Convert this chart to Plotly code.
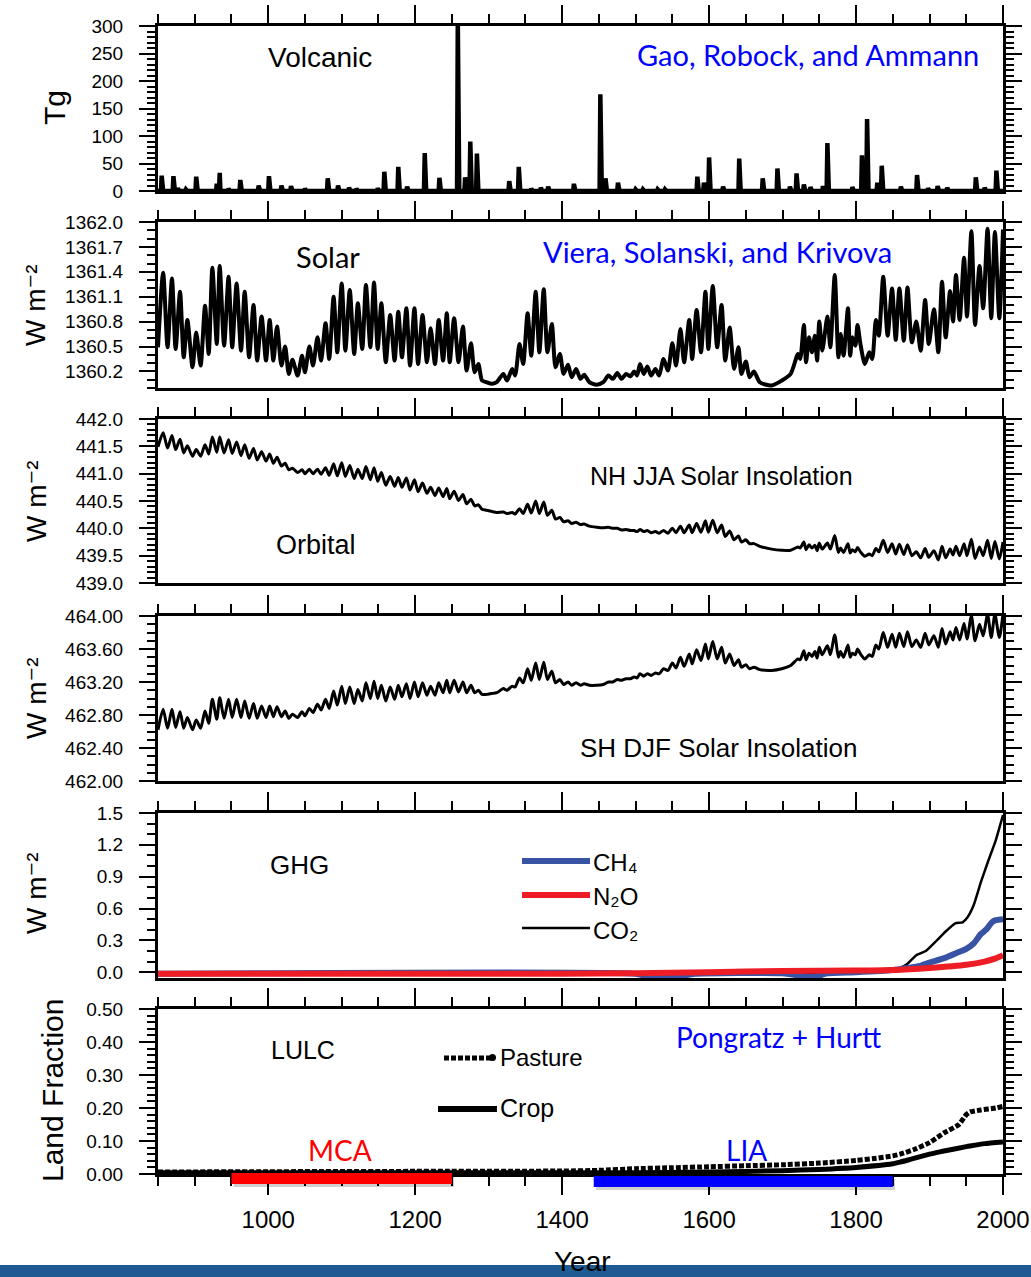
import numpy as np
import plotly.graph_objects as go

# ---------------- data ----------------
volc_years = [855, 871, 877, 888, 902, 930, 934, 946, 962, 987, 1001, 1018, 1031, 1050, 1081, 1095, 1110, 1120,
              1149, 1158, 1177, 1189, 1213, 1233, 1258, 1268, 1275, 1284, 1328, 1341, 1358, 1371, 1381, 1416,
              1452, 1459, 1476, 1500, 1510, 1530, 1540, 1584, 1593, 1600, 1619, 1641, 1673, 1693, 1710, 1719,
              1729, 1738, 1755, 1761, 1795, 1808, 1815, 1829, 1835, 1861, 1883, 1898, 1911, 1924, 1963, 1975, 1991]
volc_tg = [28, 27, 5, 3, 26, 13, 33, 4, 20, 10, 27, 10, 9, 4, 23, 10, 6, 4,
           5, 35, 44, 8, 69, 24, 310, 25, 90, 68, 18, 44, 4, 6, 8, 13,
           176, 23, 15, 3, 3, 3, 3, 26, 15, 61, 8, 59, 23, 41, 8, 32,
           12, 7, 9, 87, 7, 65, 131, 15, 46, 8, 29, 5, 9, 6, 25, 6, 37]

cycle_years = [
    850, 857, 863, 869, 874, 880, 885, 890, 897, 902,
    908, 914, 919, 924, 930, 934, 940, 946, 951, 957,
    963, 968, 974, 980, 985, 991, 997, 1002, 1007, 1012,
    1018, 1023, 1028, 1033, 1040, 1046, 1050, 1056, 1061, 1067,
    1072, 1078, 1083, 1089, 1094, 1100, 1105, 1111, 1117, 1122,
    1128, 1133, 1139, 1144, 1149, 1154, 1160, 1166, 1172, 1177,
    1182, 1188, 1193, 1199, 1204, 1210, 1216, 1221, 1227, 1232,
    1238, 1243, 1247, 1253, 1259, 1265, 1270, 1276, 1281, 1286,
    1291, 1297, 1304, 1311, 1320, 1325, 1332, 1336, 1342, 1347,
    1353, 1358, 1364, 1369, 1375, 1380, 1386, 1391, 1397, 1402,
    1408, 1413, 1419, 1425, 1430, 1437, 1447, 1456, 1463, 1469,
    1475, 1481, 1487, 1493, 1498, 1502, 1506, 1511, 1516, 1521,
    1527, 1532, 1538, 1544, 1550, 1555, 1561, 1566, 1573, 1577,
    1583, 1589, 1595, 1599, 1605, 1611, 1617, 1622, 1628, 1634,
    1640, 1644, 1650, 1655, 1661, 1669, 1685, 1699, 1711, 1721,
    1724, 1729, 1732, 1736, 1740, 1744, 1747, 1750, 1754, 1761,
    1765, 1771, 1776, 1779, 1783, 1789, 1792, 1795, 1799, 1802,
    1806, 1812, 1818, 1822, 1827, 1831, 1837, 1843, 1849, 1854,
    1859, 1865, 1870, 1876, 1882, 1888, 1894, 1899, 1906, 1912,
    1917, 1922, 1928, 1932, 1936, 1941, 1947, 1951, 1957, 1962,
    1968, 1973, 1979, 1984, 1989, 1995, 2000]

solar_tsi = [
    1360.49, 1361.39, 1360.49, 1361.32, 1360.47, 1361.16, 1360.37, 1360.82, 1360.25, 1360.67,
    1360.27, 1360.99, 1360.41, 1361.45, 1360.53, 1361.47, 1360.51, 1361.34, 1360.49, 1361.26,
    1360.45, 1361.16, 1360.37, 1361.00, 1360.33, 1360.86, 1360.33, 1360.82, 1360.33, 1360.74,
    1360.27, 1360.50, 1360.17, 1360.34, 1360.15, 1360.39, 1360.19, 1360.50, 1360.27, 1360.61,
    1360.33, 1360.78, 1360.35, 1361.10, 1360.43, 1361.26, 1360.45, 1361.18, 1360.41, 1361.02,
    1360.47, 1361.24, 1360.49, 1361.27, 1360.47, 1361.02, 1360.31, 1360.88, 1360.33, 1360.92,
    1360.37, 1360.96, 1360.27, 1360.96, 1360.29, 1360.88, 1360.31, 1360.72, 1360.29, 1360.82,
    1360.33, 1360.90, 1360.31, 1360.84, 1360.31, 1360.74, 1360.21, 1360.54, 1360.19, 1360.29,
    1360.09, 1360.07, 1360.05, 1360.07, 1360.17, 1360.09, 1360.23, 1360.15, 1360.53, 1360.29,
    1360.90, 1360.39, 1361.16, 1360.43, 1361.19, 1360.43, 1360.77, 1360.25, 1360.41, 1360.17,
    1360.28, 1360.13, 1360.23, 1360.11, 1360.16, 1360.07, 1360.04, 1360.07, 1360.15, 1360.11,
    1360.18, 1360.11, 1360.17, 1360.14, 1360.20, 1360.15, 1360.29, 1360.17, 1360.26, 1360.15,
    1360.23, 1360.15, 1360.35, 1360.21, 1360.54, 1360.27, 1360.71, 1360.31, 1360.82, 1360.35,
    1360.94, 1360.43, 1361.16, 1360.47, 1361.23, 1360.49, 1361.00, 1360.33, 1360.73, 1360.23,
    1360.49, 1360.17, 1360.32, 1360.13, 1360.20, 1360.07, 1360.03, 1360.09, 1360.17, 1360.41,
    1360.35, 1360.76, 1360.31, 1360.61, 1360.43, 1360.63, 1360.33, 1360.80, 1360.45, 1360.86,
    1360.49, 1361.36, 1360.37, 1360.65, 1360.39, 1360.96, 1360.39, 1360.61, 1360.51, 1360.76,
    1360.53, 1360.29, 1360.43, 1360.35, 1360.82, 1360.63, 1361.34, 1360.63, 1361.20, 1360.58,
    1361.20, 1360.57, 1361.21, 1360.55, 1360.80, 1360.45, 1361.06, 1360.53, 1360.95, 1360.43,
    1361.28, 1360.61, 1361.17, 1360.80, 1361.36, 1360.82, 1361.57, 1360.86, 1361.89, 1360.76,
    1361.47, 1360.96, 1361.92, 1360.84, 1361.88, 1360.84, 1361.91]

nh_jja = [
    441.49, 441.75, 441.47, 441.70, 441.44, 441.63, 441.38, 441.51, 441.32, 441.44,
    441.32, 441.53, 441.36, 441.67, 441.39, 441.67, 441.38, 441.62, 441.37, 441.58,
    441.33, 441.53, 441.28, 441.46, 441.25, 441.40, 441.23, 441.36, 441.19, 441.30,
    441.14, 441.19, 441.07, 441.10, 441.02, 441.07, 441.00, 441.08, 441.00, 441.08,
    440.99, 441.11, 440.97, 441.18, 440.96, 441.20, 440.95, 441.15, 440.91, 441.08,
    440.91, 441.13, 440.89, 441.11, 440.86, 441.02, 440.79, 440.95, 440.77, 440.93,
    440.75, 440.92, 440.70, 440.89, 440.67, 440.83, 440.64, 440.75, 440.60, 440.74,
    440.58, 440.73, 440.54, 440.68, 440.51, 440.62, 440.45, 440.53, 440.41, 440.43,
    440.35, 440.33, 440.31, 440.29, 440.30, 440.27, 440.29, 440.26, 440.36, 440.27,
    440.44, 440.28, 440.50, 440.27, 440.48, 440.24, 440.33, 440.17, 440.20, 440.12,
    440.14, 440.09, 440.11, 440.07, 440.08, 440.04, 440.02, 440.01, 440.02, 440.00,
    440.00, 439.97, 439.98, 439.96, 439.96, 439.94, 439.98, 439.94, 439.96, 439.92,
    439.94, 439.91, 439.96, 439.91, 440.00, 439.92, 440.04, 439.92, 440.06, 439.92,
    440.09, 439.93, 440.14, 439.93, 440.15, 439.92, 440.06, 439.85, 439.95, 439.79,
    439.86, 439.75, 439.79, 439.72, 439.72, 439.67, 439.62, 439.60, 439.60, 439.66,
    439.64, 439.75, 439.61, 439.70, 439.64, 439.69, 439.59, 439.73, 439.62, 439.73,
    439.62, 439.87, 439.56, 439.64, 439.56, 439.72, 439.55, 439.61, 439.57, 439.65,
    439.57, 439.49, 439.53, 439.50, 439.63, 439.57, 439.78, 439.56, 439.72, 439.53,
    439.71, 439.52, 439.70, 439.50, 439.57, 439.46, 439.63, 439.47, 439.59, 439.42,
    439.67, 439.46, 439.62, 439.51, 439.67, 439.50, 439.72, 439.50, 439.80, 439.45,
    439.66, 439.50, 439.78, 439.45, 439.76, 439.44, 439.75]

sh_djf = [
    462.62, 462.87, 462.64, 462.87, 462.65, 462.84, 462.64, 462.77, 462.62, 462.74,
    462.64, 462.85, 462.70, 462.99, 462.75, 463.01, 462.76, 462.99, 462.77, 462.99,
    462.77, 462.97, 462.76, 462.94, 462.76, 462.91, 462.77, 462.91, 462.78, 462.90,
    462.78, 462.85, 462.76, 462.81, 462.77, 462.84, 462.79, 462.88, 462.83, 462.93,
    462.86, 462.99, 462.88, 463.09, 462.92, 463.15, 462.94, 463.14, 462.94, 463.11,
    462.97, 463.19, 463.00, 463.21, 463.00, 463.16, 462.97, 463.14, 462.99, 463.16,
    463.02, 463.18, 463.00, 463.20, 463.02, 463.19, 463.04, 463.15, 463.04, 463.19,
    463.07, 463.22, 463.07, 463.22, 463.08, 463.20, 463.07, 463.16, 463.07, 463.10,
    463.05, 463.05, 463.06, 463.07, 463.12, 463.10, 463.15, 463.14, 463.25, 463.19,
    463.36, 463.22, 463.43, 463.23, 463.44, 463.23, 463.33, 463.19, 463.23, 463.17,
    463.20, 463.16, 463.19, 463.16, 463.18, 463.16, 463.16, 463.17, 463.20, 463.20,
    463.23, 463.22, 463.24, 463.24, 463.26, 463.25, 463.30, 463.27, 463.30, 463.28,
    463.31, 463.30, 463.36, 463.34, 463.43, 463.37, 463.50, 463.39, 463.54, 463.42,
    463.59, 463.46, 463.66, 463.48, 463.69, 463.48, 463.62, 463.43, 463.54, 463.40,
    463.47, 463.38, 463.41, 463.36, 463.38, 463.35, 463.34, 463.36, 463.40, 463.48,
    463.47, 463.58, 463.47, 463.55, 463.51, 463.57, 463.49, 463.62, 463.53, 463.64,
    463.53, 463.77, 463.50, 463.57, 463.50, 463.65, 463.50, 463.55, 463.53, 463.60,
    463.54, 463.48, 463.53, 463.51, 463.65, 463.60, 463.80, 463.62, 463.78, 463.62,
    463.79, 463.63, 463.81, 463.63, 463.71, 463.62, 463.79, 463.65, 463.76, 463.62,
    463.85, 463.66, 463.81, 463.71, 463.86, 463.71, 463.91, 463.72, 464.00, 463.70,
    463.90, 463.76, 464.02, 463.74, 464.02, 463.74, 464.03]

ch4_years = [850, 1500, 1520, 1540, 1560, 1580, 1700, 1730, 1745, 1760, 1800, 1850, 1870, 1887, 1900,
             1923, 1940, 1950, 1960, 1970, 1977, 1985, 1990, 2000]
ch4_wm2 = [-0.015, -0.015, -0.045, -0.05, -0.04, -0.015, -0.01, -0.04, -0.045, -0.01, 0.0, 0.02, 0.04, 0.06, 0.09,
           0.14, 0.19, 0.22, 0.27, 0.36, 0.40, 0.47, 0.49, 0.50]
n2o_years = [850, 1400, 1500, 1600, 1700, 1800, 1850, 1900, 1950, 1975, 1990, 2000]
n2o_wm2 = [-0.015, -0.015, -0.01, 0.0, 0.012, 0.015, 0.02, 0.04, 0.07, 0.10, 0.13, 0.16]
co2_years = [850, 1100, 1150, 1200, 1250, 1500, 1800, 1840, 1860, 1870, 1882, 1895, 1910, 1923, 1935,
             1945, 1952, 1960, 1970, 1980, 1990, 2000]
co2_wm2 = [-0.01, -0.01, 0.0, 0.0, -0.01, -0.01, -0.005, 0.01, 0.04, 0.08, 0.16, 0.20, 0.30, 0.39, 0.46,
           0.47, 0.52, 0.63, 0.85, 1.05, 1.24, 1.48]

pasture_years = [850, 1000, 1200, 1400, 1450, 1500, 1550, 1600, 1650, 1700, 1750, 1800, 1825, 1850, 1860,
                 1880, 1900, 1920, 1940, 1950, 1955, 1970, 1990, 2000]
pasture_frac = [0.006, 0.007, 0.008, 0.009, 0.011, 0.016, 0.019, 0.022, 0.025, 0.028, 0.033, 0.041, 0.047,
                0.055, 0.06, 0.075, 0.095, 0.125, 0.15, 0.18, 0.188, 0.194, 0.20, 0.205]
crop_years = [850, 1500, 1600, 1700, 1750, 1800, 1850, 1860, 1875, 1900, 1914, 1925, 1950, 1955, 1975, 2000]
crop_frac = [0.004, 0.004, 0.006, 0.010, 0.014, 0.02, 0.031, 0.036, 0.045, 0.06, 0.067, 0.072, 0.083, 0.085,
             0.092, 0.097]

period_names = ["MCA", "LIA"]
period_start = [950, 1443]
period_end = [1250, 1850]
period_colors = ["#FF0000", "#0000FF"]

x_ticks = [1000, 1200, 1400, 1600, 1800, 2000]

# annual volcanic series (zeros with eruption loadings)
all_years = np.arange(850, 2001)
volc_series = np.zeros(all_years.size)
for yr, v in zip(volc_years, volc_tg):
    volc_series[yr - 850] = v

# ---------------- layout helpers ----------------
W, H = 1031, 1277
L, R, T, B = 158, 1003, 26, 1174


def px(x):
    return (x - L) / (R - L)


def py(y):
    return (B - y) / (B - T)


panel_px = [(26, 191), (222, 388), (419, 583), (616, 781), (813, 978), (1009, 1174)]
domains = [[py(b), py(t)] for (t, b) in panel_px]

TICKFONT = dict(family="Liberation Sans, Arial, sans-serif", size=19, color="black")
CAL = "Lato, Carlito, Calibri, sans-serif"
HEL = "Liberation Sans, Arial, DejaVu Sans, sans-serif"

fig = go.Figure()

fig.add_trace(go.Scatter(x=all_years, y=volc_series, mode="lines", line=dict(color="black", width=4.5),
                         xaxis="x", yaxis="y", showlegend=False))
fig.add_trace(go.Scatter(x=cycle_years, y=solar_tsi, mode="lines",
                         line=dict(color="black", width=4, shape="spline", smoothing=0.7),
                         xaxis="x2", yaxis="y2", showlegend=False))
fig.add_trace(go.Scatter(x=cycle_years, y=nh_jja, mode="lines",
                         line=dict(color="black", width=3, shape="spline", smoothing=0.7),
                         xaxis="x3", yaxis="y3", showlegend=False))
fig.add_trace(go.Scatter(x=cycle_years, y=sh_djf, mode="lines",
                         line=dict(color="black", width=3, shape="spline", smoothing=0.7),
                         xaxis="x4", yaxis="y4", showlegend=False))
fig.add_trace(go.Scatter(x=co2_years, y=co2_wm2, mode="lines",
                         line=dict(color="black", width=2.5, shape="spline", smoothing=0.5),
                         xaxis="x5", yaxis="y5", showlegend=False))
fig.add_trace(go.Scatter(x=ch4_years, y=ch4_wm2, mode="lines",
                         line=dict(color="#3853A4", width=6, shape="spline", smoothing=0.5),
                         xaxis="x5", yaxis="y5", showlegend=False))
fig.add_trace(go.Scatter(x=n2o_years, y=n2o_wm2, mode="lines",
                         line=dict(color="#EE1C25", width=6, shape="spline", smoothing=0.5),
                         xaxis="x5", yaxis="y5", showlegend=False))
fig.add_trace(go.Scatter(x=crop_years, y=crop_frac, mode="lines",
                         line=dict(color="black", width=5, shape="spline", smoothing=0.5),
                         xaxis="x6", yaxis="y6", showlegend=False))
fig.add_trace(go.Scatter(x=pasture_years, y=pasture_frac, mode="lines",
                         line=dict(color="black", width=5, dash="5px,2px", shape="spline", smoothing=0.5),
                         xaxis="x6", yaxis="y6", showlegend=False))

y_specs = [
    dict(range=[0, 300], tick0=0, dtick=50, tickformat="d", minor_dtick=10),
    dict(range=[1360.0, 1362.0], tick0=1360.2, dtick=0.3, tickformat=".1f", minor_dtick=0.1),
    dict(range=[439.0, 442.0], tick0=439.0, dtick=0.5, tickformat=".1f", minor_dtick=0.1),
    dict(range=[462.0, 464.0], tick0=462.0, dtick=0.4, tickformat=".2f", minor_dtick=0.1),
    dict(range=[-0.055, 1.5], tick0=0.0, dtick=0.3, tickformat=".1f", minor_dtick=0.1),
    dict(range=[0.0, 0.5], tick0=0.0, dtick=0.1, tickformat=".2f", minor_dtick=0.02),
]

layout_axes = {}
for i in range(6):
    n = "" if i == 0 else str(i + 1)
    spec = y_specs[i]
    last = (i == 5)
    xa = dict(domain=[0, 1], range=[850, 2000], anchor="y" + n, showgrid=False, zeroline=False,
              showline=True, linewidth=3, linecolor="black", automargin=False,
              ticks="outside", ticklen=18, tickwidth=2, tickcolor="black",
              tickvals=x_ticks,
              minor=dict(dtick=50, tick0=850, ticklen=9, tickwidth=2, ticks="outside", tickcolor="black"))
    if last:
        xa.update(side="bottom", mirror="ticks", showticklabels=True,
                  tickfont=dict(family=HEL, size=24, color="black"), ticklabelstandoff=4)
    else:
        xa.update(side="top", mirror=True, showticklabels=False)
    ya = dict(domain=domains[i], range=spec["range"], anchor="x" + n, showgrid=False, zeroline=False,
              showline=True, linewidth=3, linecolor="black", mirror="ticks", automargin=False,
              ticks="outside", ticklen=16, tickwidth=2, tickcolor="black",
              tick0=spec["tick0"], dtick=spec["dtick"], tickformat=spec["tickformat"],
              tickfont=TICKFONT, ticklabelstandoff=12,
              minor=dict(dtick=spec["minor_dtick"], ticklen=8, tickwidth=1.5, ticks="outside",
                         tickcolor="black"))
    layout_axes["xaxis" + n] = xa
    layout_axes["yaxis" + n] = ya

ann = []


def text(x, y, s, size, color="black", family=HEL, angle=0, xanchor="center"):
    ann.append(dict(x=px(x), y=py(y), xref="paper", yref="paper", text=s, showarrow=False,
                    font=dict(family=family, size=size, color=color), textangle=angle,
                    xanchor=xanchor, yanchor="middle"))


# panel labels
text(320, 58, "Volcanic", 28)
text(808, 55, "Gao, Robock, and Ammann", 29, color="#0000FF", family=CAL)
text(328, 256, "Solar", 29, family=CAL)
text(717, 251, "Viera, Solanski, and Krivova", 29, color="#0000FF", family=CAL)
text(721, 476, "NH JJA Solar Insolation", 25)
text(316, 545, "Orbital", 27)
text(718, 748, "SH DJF Solar Insolation", 26)
text(299, 865, "GHG", 26)
text(303, 1050, "LULC", 25)
text(778, 1037, "Pongratz + Hurtt", 28, color="#0000FF", family=CAL)

# legend texts
text(591, 863, "CH\u2084", 24, xanchor="left")
text(591, 896, "N\u2082O", 24, xanchor="left")
text(591, 930, "CO\u2082", 24, xanchor="left")
text(498, 1057, "Pasture", 24, xanchor="left")
text(498, 1108, "Crop", 25, xanchor="left")

# axis titles
text(55, 108, "Tg", 30, angle=-90)
for yc in [305, 501, 698, 893]:
    text(36, yc, "W m\u207b\u00b2", 28, angle=-90)
text(52, 1090, "Land Fraction", 30, angle=-90)
text(582, 1261, "Year", 28)

# period labels
text(340, 1150, "MCA", 28, color="#FF0000", family=CAL)
text(746, 1150, "LIA", 28, color="#0000FF", family=CAL)

shapes = []
# legend samples
for yy, col, wd in [(861, "#3853A4", 6), (895, "#EE1C25", 6), (928, "black", 2.5)]:
    shapes.append(dict(type="line", xref="paper", yref="paper", x0=px(522), x1=px(590), y0=py(yy), y1=py(yy),
                       line=dict(color=col, width=wd)))
shapes.append(dict(type="line", xref="paper", yref="paper", x0=px(444), x1=px(494), y0=py(1058), y1=py(1058),
                   line=dict(color="black", width=5, dash="5px,2px")))
shapes.append(dict(type="circle", xref="paper", yref="paper", x0=px(489), x1=px(496), y0=py(1061), y1=py(1054),
                   fillcolor="black", line=dict(width=0)))
shapes.append(dict(type="line", xref="paper", yref="paper", x0=px(438), x1=px(497), y0=py(1109), y1=py(1109),
                   line=dict(color="black", width=6)))

# MCA / LIA bars
bar_y = [(1173, 1184), (1176, 1187)]
for k in range(len(period_names)):
    t0, b0 = bar_y[k]
    shapes.append(dict(type="rect", xref="x6", yref="paper", x0=period_start[k] + 3, x1=period_end[k] + 3,
                       y0=py(b0 + 3), y1=py(t0 + 3), fillcolor="rgba(0,0,0,0.18)", line=dict(width=0),
                       layer="above"))
    shapes.append(dict(type="rect", xref="x6", yref="paper", x0=period_start[k], x1=period_end[k],
                       y0=py(b0), y1=py(t0), fillcolor=period_colors[k], line=dict(width=0), layer="above"))

# bottom banner
shapes.append(dict(type="rect", xref="paper", yref="paper", x0=px(-5), x1=px(W + 5), y0=py(H + 5), y1=py(1265),
                   fillcolor="#1F5A92", line=dict(width=0), layer="above"))

fig.update_layout(
    width=W, height=H, autosize=False,
    margin=dict(l=L, r=W - R, t=T, b=H - B, pad=0, autoexpand=False),
    paper_bgcolor="white", plot_bgcolor="white",
    showlegend=False,
    annotations=ann, shapes=shapes,
    **layout_axes,
)

fig.write_html("out.html")
